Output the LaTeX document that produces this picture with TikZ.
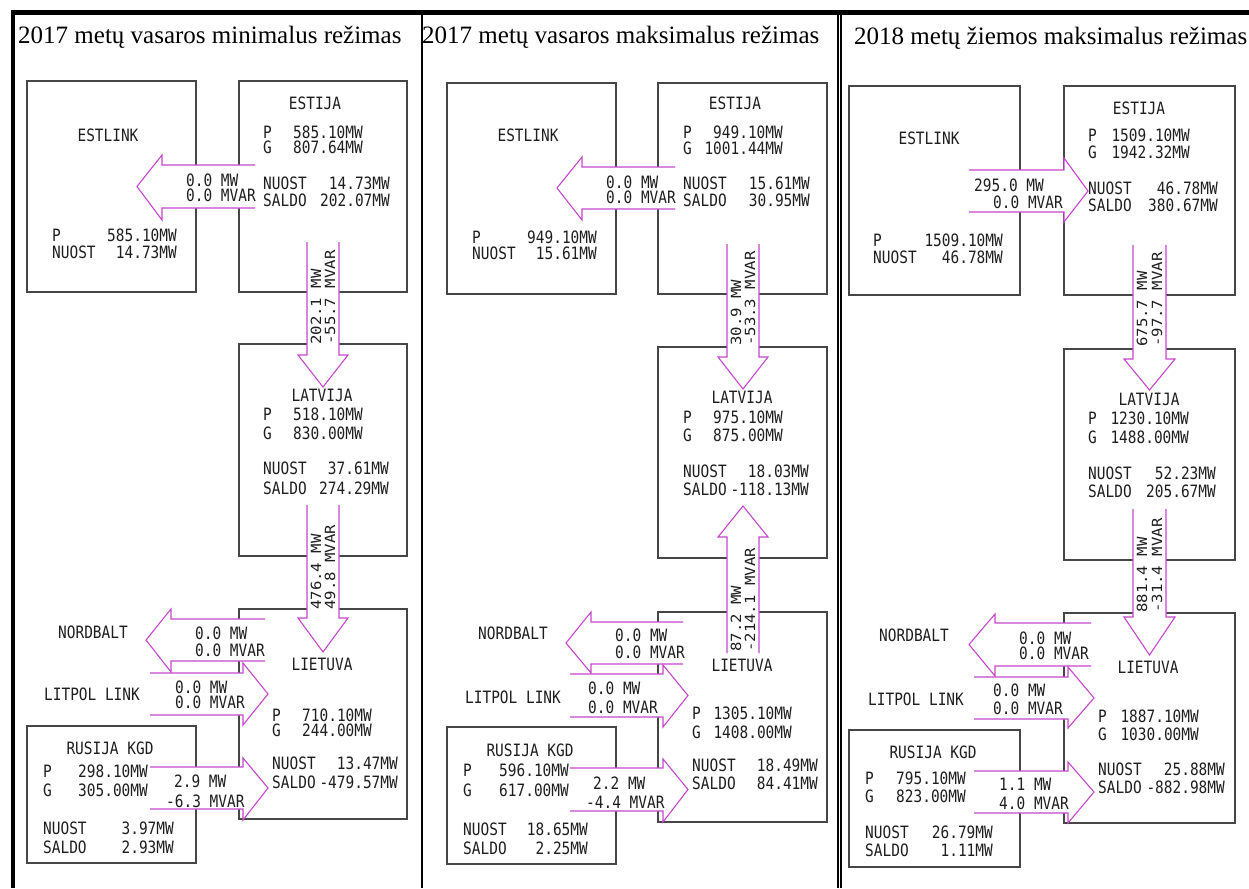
\documentclass[tikz,border=0pt]{standalone}
\usepackage{fontspec}
\setmainfont{Liberation Serif}
\newfontfamily\cad[FakeStretch=0.85]{DejaVu Sans Mono}
\newfontfamily\cadv[FakeStretch=1.12]{DejaVu Sans Mono}
\definecolor{arrcol}{RGB}{196,72,204}
\definecolor{boxcol}{RGB}{70,70,70}
\definecolor{txtcol}{RGB}{30,30,30}
\tikzset{
  boxst/.style={draw=boxcol, line width=1.1pt},
  arr/.style={draw=arrcol, line width=1.1pt, line join=miter},
  txt/.style={font=\cad\fontsize{17}{17}\selectfont, text=txtcol, inner sep=0pt, text height=12.4pt, text depth=0pt},
  vtxt/.style={font=\cadv\fontsize{14}{14}\selectfont, text=txtcol, inner sep=0pt, text height=10.2pt, text depth=0pt, rotate=90, anchor=west},
  ttl/.style={font=\fontsize{25}{25}\selectfont, inner sep=0pt, anchor=base west},
  frame/.style={draw=black, line width=#1},
}
\newcommand\bx[4]{\draw[boxst] (#1,#2) rectangle (#3,#4);}
% horizontal block arrow: xopen, xbase, xtip, ytop, ybot, headtop, headbot
\newcommand\hblk[7]{%
  \fill[white] (#1,#4) -- (#2,#4) -- (#2,#6) -- (#3,{(#4+#5)/2}) -- (#2,#7) -- (#2,#5) -- (#1,#5) -- cycle;
  \draw[arr] (#1,#4) -- (#2,#4) -- (#2,#6) -- (#3,{(#4+#5)/2}) -- (#2,#7) -- (#2,#5) -- (#1,#5);}
% vertical block arrow: yopen, ybase, ytip, xleft, xright, headleft, headright
\newcommand\vblk[7]{%
  \fill[white] (#4,#1) -- (#4,#2) -- (#6,#2) -- ({(#4+#5)/2},#3) -- (#7,#2) -- (#5,#2) -- (#5,#1) -- cycle;
  \draw[arr] (#4,#1) -- (#4,#2) -- (#6,#2) -- ({(#4+#5)/2},#3) -- (#7,#2) -- (#5,#2) -- (#5,#1);}
% row: name, xleft, xright, y, label, value
\newcommand\rowtxt[6]{%
  \node[txt,anchor=west] (#1l) at (#2,#4) {#5};
  \node[txt,anchor=east] (#1v) at (#3,#4) {#6};}
% label: name, anchor, x, y, text
\newcommand\tlbl[5]{\node[txt,anchor=#2] (#1) at (#3,#4) {#5};}
% vertical label pair: name, x1, x2, ybottom, line1, line2
\newcommand\vtlbl[6]{%
  \node[vtxt] (#1a) at (#2,#4) {#5};
  \node[vtxt] (#1b) at (#3,#4) {#6};}
\begin{document}
\begin{tikzpicture}[x=1pt,y=-1pt]
\useasboundingbox (0,0) rectangle (1249,888);
\fill[white] (0,0) rectangle (1249,888);

% ---------- frame ----------
\draw[frame=4.5pt] (11,12.5) -- (1249,12.5);
\draw[frame=4pt] (13,10.5) -- (13,888);
\draw[frame=2.6pt] (422,12) -- (422,888);
\draw[frame=1.3pt] (838,12) -- (838,888);
\draw[frame=1.3pt] (841,12) -- (841,888);

% ---------- titles ----------
\node[ttl] (t1) at (18,44) {2017 metų vasaros minimalus režimas};
\node[ttl] (t2) at (422,44) {2017 metų vasaros maksimalus režimas};
\node[ttl] (t3) at (854,45) {2018 metų žiemos maksimalus režimas};

% ================= PANEL 1 =================
\bx{27}{81}{196}{292}
\bx{239}{81}{407}{292}
\bx{239}{344}{407}{556}
\bx{239}{609}{407}{819}
\bx{27}{726}{196}{863}
\hblk{255}{162}{137}{165}{208}{155}{220}
\vblk{242}{355}{387}{307}{339}{298}{348}
\vblk{505}{618}{652}{307}{339}{298}{348}
\hblk{265}{171}{146}{619}{661}{609}{672}
\hblk{150}{243}{268}{673}{715}{663}{725}
\hblk{150}{243}{268}{767}{809}{758}{820}

\tlbl{a1estlink}{center}{108}{135}{ESTLINK}
\rowtxt{a1lP}{52}{177}{235}{P}{585.10MW}
\rowtxt{a1lN}{52}{177}{252}{NUOST}{14.73MW}
\tlbl{a1estija}{center}{315}{103}{ESTIJA}
\rowtxt{a1eP}{263}{363}{132}{P}{585.10MW}
\rowtxt{a1eG}{263}{363}{147}{G}{807.64MW}
\rowtxt{a1eN}{263}{390}{183}{NUOST}{14.73MW}
\rowtxt{a1eS}{263}{390}{200}{SALDO}{202.07MW}
\tlbl{a1f1}{west}{186}{180}{0.0 MW}
\tlbl{a1f2}{west}{186}{195}{0.0 MVAR}
\vtlbl{a1v1}{316}{330}{345}{202.1 MW}{-55.7 MVAR}
\tlbl{a1latvija}{center}{322}{395}{LATVIJA}
\rowtxt{a1vP}{263}{363}{414}{P}{518.10MW}
\rowtxt{a1vG}{263}{363}{433}{G}{830.00MW}
\rowtxt{a1vN}{263}{389}{468}{NUOST}{37.61MW}
\rowtxt{a1vS}{263}{389}{488}{SALDO}{274.29MW}
\vtlbl{a1v2}{316}{330}{610}{476.4 MW}{49.8 MVAR}
\tlbl{a1nordbalt}{center}{93}{632}{NORDBALT}
\tlbl{a1n1}{west}{195}{633}{0.0 MW}
\tlbl{a1n2}{west}{195}{650}{0.0 MVAR}
\tlbl{a1lietuva}{center}{322}{664}{LIETUVA}
\tlbl{a1litpol}{center}{92}{694}{LITPOL LINK}
\tlbl{a1p1}{west}{175}{687}{0.0 MW}
\tlbl{a1p2}{west}{175}{702}{0.0 MVAR}
\rowtxt{a1tP}{272}{372}{715}{P}{710.10MW}
\rowtxt{a1tG}{272}{372}{730}{G}{244.00MW}
\rowtxt{a1tN}{272}{398}{763}{NUOST}{13.47MW}
\rowtxt{a1tS}{272}{398}{782}{SALDO}{-479.57MW}
\tlbl{a1rusija}{center}{110}{748}{RUSIJA KGD}
\rowtxt{a1rP}{43}{148}{771}{P}{298.10MW}
\rowtxt{a1rG}{43}{148}{790}{G}{305.00MW}
\rowtxt{a1rN}{43}{174}{828}{NUOST}{3.97MW}
\rowtxt{a1rS}{43}{174}{847}{SALDO}{2.93MW}
\tlbl{a1r1}{west}{174}{781}{2.9 MW}
\tlbl{a1r2}{west}{166}{801}{-6.3 MVAR}

% ================= PANEL 2 =================
\bx{447}{83}{616}{294}
\bx{658}{83}{827}{294}
\bx{658}{347}{827}{558}
\bx{658}{612}{827}{822}
\bx{447}{727}{616}{864}
\hblk{675}{582}{557}{167}{209}{157}{220}
\vblk{244}{357}{389}{727}{759}{718}{768}
\vblk{653}{537}{506}{727}{759}{718}{768}
\hblk{683}{591}{566}{622}{664}{612}{673}
\hblk{570}{663}{688}{674}{717}{665}{727}
\hblk{570}{663}{688}{768}{811}{759}{822}

\tlbl{b1estlink}{center}{528}{135}{ESTLINK}
\rowtxt{b1lP}{472}{597}{237}{P}{949.10MW}
\rowtxt{b1lN}{472}{597}{253}{NUOST}{15.61MW}
\tlbl{b1estija}{center}{735}{103}{ESTIJA}
\rowtxt{b1eP}{683}{783}{132}{P}{949.10MW}
\rowtxt{b1eG}{683}{783}{148}{G}{1001.44MW}
\rowtxt{b1eN}{683}{810}{183}{NUOST}{15.61MW}
\rowtxt{b1eS}{683}{810}{200}{SALDO}{30.95MW}
\tlbl{b1f1}{west}{606}{182}{0.0 MW}
\tlbl{b1f2}{west}{606}{197}{0.0 MVAR}
\vtlbl{b1v1}{736}{750}{346}{30.9 MW}{-53.3 MVAR}
\tlbl{b1latvija}{center}{742}{397}{LATVIJA}
\rowtxt{b1vP}{683}{783}{417}{P}{975.10MW}
\rowtxt{b1vG}{683}{783}{435}{G}{875.00MW}
\rowtxt{b1vN}{683}{809}{471}{NUOST}{18.03MW}
\rowtxt{b1vS}{683}{809}{489}{SALDO}{-118.13MW}
\vtlbl{b1v2}{736}{750}{652}{87.2 MW}{-214.1 MVAR}
\tlbl{b1nordbalt}{center}{513}{633}{NORDBALT}
\tlbl{b1n1}{west}{615}{635}{0.0 MW}
\tlbl{b1n2}{west}{615}{652}{0.0 MVAR}
\tlbl{b1lietuva}{center}{742}{665}{LIETUVA}
\tlbl{b1litpol}{center}{513}{697}{LITPOL LINK}
\tlbl{b1p1}{west}{588}{688}{0.0 MW}
\tlbl{b1p2}{west}{588}{707}{0.0 MVAR}
\rowtxt{b1tP}{692}{792}{713}{P}{1305.10MW}
\rowtxt{b1tG}{692}{792}{732}{G}{1408.00MW}
\rowtxt{b1tN}{692}{818}{765}{NUOST}{18.49MW}
\rowtxt{b1tS}{692}{818}{783}{SALDO}{84.41MW}
\tlbl{b1rusija}{center}{530}{750}{RUSIJA KGD}
\rowtxt{b1rP}{463}{569}{770}{P}{596.10MW}
\rowtxt{b1rG}{463}{569}{790}{G}{617.00MW}
\rowtxt{b1rN}{463}{588}{829}{NUOST}{18.65MW}
\rowtxt{b1rS}{463}{588}{848}{SALDO}{2.25MW}
\tlbl{b1r1}{west}{593}{783}{2.2 MW}
\tlbl{b1r2}{west}{586}{802}{-4.4 MVAR}

% ================= PANEL 3 =================
\bx{849}{86}{1020}{295}
\bx{1064}{86}{1235}{295}
\bx{1064}{349}{1235}{560}
\bx{1064}{613}{1235}{823}
\bx{849}{730}{1020}{867}
\hblk{969}{1064}{1088}{170}{212}{158}{222}
\vblk{245}{359}{390}{1133}{1166}{1124}{1175}
\vblk{509}{617}{655}{1133}{1166}{1124}{1175}
\hblk{1091}{995}{969}{623}{666}{614}{676}
\hblk{974}{1068}{1094}{677}{719}{667}{728}
\hblk{974}{1068}{1094}{771}{813}{762}{823}

\tlbl{c1estlink}{center}{929}{138}{ESTLINK}
\rowtxt{c1lP}{873}{1003}{240}{P}{1509.10MW}
\rowtxt{c1lN}{873}{1003}{257}{NUOST}{46.78MW}
\tlbl{c1estija}{center}{1139}{108}{ESTIJA}
\rowtxt{c1eP}{1088}{1190}{135}{P}{1509.10MW}
\rowtxt{c1eG}{1088}{1190}{152}{G}{1942.32MW}
\rowtxt{c1eN}{1088}{1218}{188}{NUOST}{46.78MW}
\rowtxt{c1eS}{1088}{1218}{205}{SALDO}{380.67MW}
\tlbl{c1f1}{west}{974}{185}{295.0 MW}
\tlbl{c1f2}{west}{993}{202}{0.0 MVAR}
\vtlbl{c1v1}{1142}{1157}{347}{675.7 MW}{-97.7 MVAR}
\tlbl{c1latvija}{center}{1149}{399}{LATVIJA}
\rowtxt{c1vP}{1088}{1189}{418}{P}{1230.10MW}
\rowtxt{c1vG}{1088}{1189}{437}{G}{1488.00MW}
\rowtxt{c1vN}{1088}{1216}{473}{NUOST}{52.23MW}
\rowtxt{c1vS}{1088}{1216}{491}{SALDO}{205.67MW}
\vtlbl{c1v2}{1142}{1157}{613}{881.4 MW}{-31.4 MVAR}
\tlbl{c1nordbalt}{center}{914}{635}{NORDBALT}
\tlbl{c1n1}{west}{1019}{638}{0.0 MW}
\tlbl{c1n2}{west}{1019}{653}{0.0 MVAR}
\tlbl{c1lietuva}{center}{1148}{667}{LIETUVA}
\tlbl{c1litpol}{center}{916}{699}{LITPOL LINK}
\tlbl{c1p1}{west}{993}{690}{0.0 MW}
\tlbl{c1p2}{west}{993}{708}{0.0 MVAR}
\rowtxt{c1tP}{1098}{1199}{716}{P}{1887.10MW}
\rowtxt{c1tG}{1098}{1199}{734}{G}{1030.00MW}
\rowtxt{c1tN}{1098}{1225}{769}{NUOST}{25.88MW}
\rowtxt{c1tS}{1098}{1225}{787}{SALDO}{-882.98MW}
\tlbl{c1rusija}{center}{933}{752}{RUSIJA KGD}
\rowtxt{c1rP}{865}{966}{778}{P}{795.10MW}
\rowtxt{c1rG}{865}{966}{796}{G}{823.00MW}
\rowtxt{c1rN}{865}{993}{832}{NUOST}{26.79MW}
\rowtxt{c1rS}{865}{993}{850}{SALDO}{1.11MW}
\tlbl{c1r1}{west}{999}{784}{1.1 MW}
\tlbl{c1r2}{west}{999}{803}{4.0 MVAR}
\end{tikzpicture}
\end{document}
